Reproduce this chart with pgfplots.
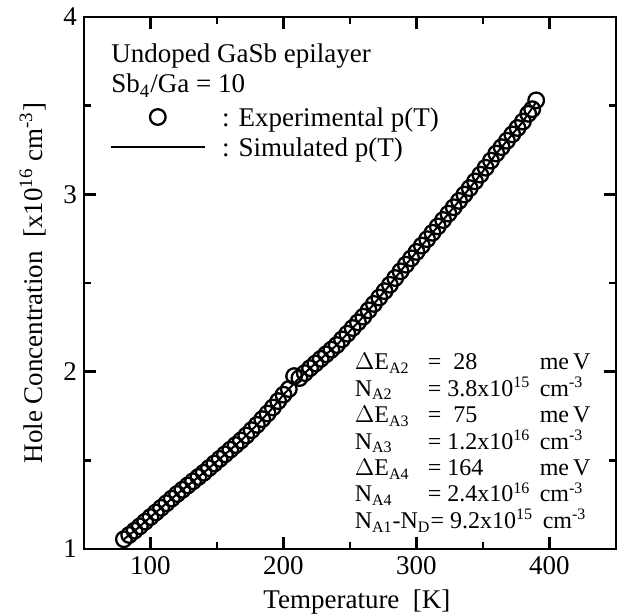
\documentclass[border=0pt]{standalone}
\usepackage{fontspec}
\setmainfont{Liberation Serif}
\usepackage{pgfplots}
\pgfplotsset{compat=1.18}

% simulated p(T), read at 10 K steps
\pgfplotstableread{
T p
80 1.055
90 1.115
100 1.18
110 1.245
120 1.31
130 1.37
140 1.43
150 1.495
160 1.56
170 1.625
180 1.70
190 1.78
200 1.87
210 1.95
220 2.02
230 2.085
240 2.15
250 2.23
260 2.31
270 2.40
280 2.49
290 2.585
300 2.675
310 2.765
320 2.855
330 2.945
340 3.035
350 3.13
360 3.23
370 3.32
380 3.41
390 3.52
}\simtable

% experimental p(T)
\pgfplotstableread{
T p
80 1.055
84 1.079
88 1.103
92 1.128
96 1.154
100 1.18
104 1.206
108 1.232
112 1.258
116 1.284
120 1.31
124 1.334
128 1.358
132 1.382
136 1.406
140 1.43
144 1.456
148 1.482
152 1.508
156 1.534
160 1.56
164 1.586
168 1.612
172 1.64
176 1.67
180 1.70
184 1.732
188 1.764
192 1.798
196 1.834
200 1.87
204 1.902
208 1.975
212 1.964
216 1.992
220 2.02
224 2.046
228 2.072
232 2.098
236 2.124
240 2.15
244 2.182
248 2.214
252 2.246
256 2.278
260 2.31
264 2.346
268 2.382
272 2.418
276 2.454
280 2.49
284 2.528
288 2.566
292 2.603
296 2.639
300 2.675
304 2.711
308 2.747
312 2.783
316 2.819
320 2.855
324 2.891
328 2.927
332 2.963
336 2.999
340 3.035
344 3.073
348 3.111
352 3.15
356 3.19
360 3.23
364 3.266
368 3.302
372 3.338
376 3.374
380 3.41
384 3.454
387 3.48
390 3.53
}\exptable

\newcommand{\mainsz}{\fontsize{13.5}{16}\selectfont}
\newcommand{\annsz}{\fontsize{12}{14}\selectfont}
\newcommand{\annline}[3]{\annsz\makebox[36.5pt][l]{#1}\makebox[56pt][l]{#2}#3}

\begin{document}
\begin{tikzpicture}
\begin{axis}[
    scale only axis,
    width=266pt, height=266pt,
    xmin=50, xmax=450, ymin=1, ymax=4,
    xtick={100,200,300,400}, minor xtick={150,250,350},
    ytick={1,2,3,4}, minor ytick={1.5,2.5,3.5},
    tick pos=both, tick align=inside,
    major tick length=6pt, minor tick length=3.5pt,
    axis line style={line width=1.4pt},
    every tick/.style={black, line width=1.2pt},
    /pgf/number format/assume math mode=true,
    ticklabel style={font=\mainsz},
    xlabel={Temperature~~[K]},
    ylabel={Hole Concentration~~[x10\textsuperscript{16} cm\textsuperscript{-3}]},
    label style={font=\mainsz},
    xlabel style={at={(axis description cs:0.513,-0.112)}, anchor=base},
    ylabel style={at={(axis description cs:-0.0959,0.5)}, anchor=center},
    clip=false,
]
\addplot[black, line width=1pt] table[x=T, y=p] {\simtable};
\addplot[only marks, mark=o, mark size=3.9pt, mark options={line width=1.15pt, fill=none}] table[x=T, y=p] {\exptable};

% legend samples
\addplot[only marks, mark=o, mark size=3.9pt, mark options={line width=1.15pt}, forget plot] coordinates {(105.5,3.436)};
\addplot[black, line width=1pt, forget plot] coordinates {(70.3,3.267) (140.8,3.267)};

\node[anchor=base west, inner sep=0pt, font=\mainsz] at (axis cs:70.3,3.741) {Undoped GaSb epilayer};
\node[anchor=base west, inner sep=0pt, font=\mainsz] at (axis cs:70.3,3.572) {Sb\textsubscript{4}/Ga = 10};
\node[anchor=base west, inner sep=0pt, font=\mainsz] at (axis cs:153.5,3.380) {: Experimental p(T)};
\node[anchor=base west, inner sep=0pt, font=\mainsz] at (axis cs:153.5,3.211) {: Simulated p(T)};

\node[anchor=base west, inner sep=0pt] at (axis cs:253.3,2.010) {\annline{$\Delta$E\textsubscript{A2}}{= \ 28}{me\,V}};
\node[anchor=base west, inner sep=0pt] at (axis cs:253.3,1.861) {\annline{N\textsubscript{A2}}{= 3.8x10\textsuperscript{15}}{cm\textsuperscript{-3}}};
\node[anchor=base west, inner sep=0pt] at (axis cs:253.3,1.712) {\annline{$\Delta$E\textsubscript{A3}}{= \ 75}{me\,V}};
\node[anchor=base west, inner sep=0pt] at (axis cs:253.3,1.563) {\annline{N\textsubscript{A3}}{= 1.2x10\textsuperscript{16}}{cm\textsuperscript{-3}}};
\node[anchor=base west, inner sep=0pt] at (axis cs:253.3,1.414) {\annline{$\Delta$E\textsubscript{A4}}{= 164}{me\,V}};
\node[anchor=base west, inner sep=0pt] at (axis cs:253.3,1.265) {\annline{N\textsubscript{A4}}{= 2.4x10\textsuperscript{16}}{cm\textsuperscript{-3}}};
\node[anchor=base west, inner sep=0pt] at (axis cs:253.3,1.116) {\annsz\makebox[94pt][l]{N\textsubscript{A1}-N\textsubscript{D}= 9.2x10\textsuperscript{15}}cm\textsuperscript{-3}};
\end{axis}
\pgfresetboundingbox
\path[use as bounding box] ([xshift=-42pt,yshift=-32.5pt]current axis.south west) rectangle ([xshift=3pt,yshift=8.5pt]current axis.north east);
\end{tikzpicture}
\end{document}
